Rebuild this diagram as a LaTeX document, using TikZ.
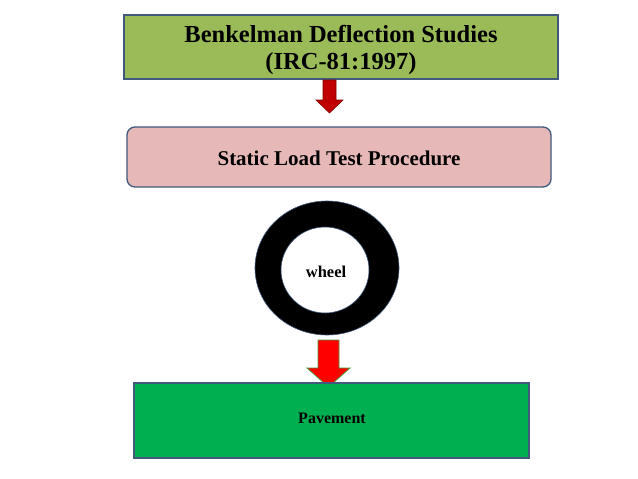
\documentclass[tikz,border=0pt]{standalone}
\usepackage{fontspec}
\setmainfont{Liberation Serif}
\definecolor{topgreen}{HTML}{9BBB59}
\definecolor{pinkbox}{HTML}{E6B9B8}
\definecolor{pavegreen}{HTML}{00B050}
\definecolor{bordblue}{HTML}{41597C}
\definecolor{darkred}{HTML}{C00000}
\definecolor{arrowgreen}{HTML}{4E9A3A}
\begin{document}
\begin{tikzpicture}[x=1pt,y=-1pt,
  box/.style={draw=bordblue,line width=1.3pt,inner sep=0pt},
  txt/.style={font=\bfseries,text=black,align=center}]
\useasboundingbox[fill=white] (0,0) rectangle (638,479);
% top box
\draw[box,fill=topgreen] (124,15) rectangle (558,79);
\node[txt,font=\bfseries\fontsize{24.5}{27}\selectfont] (title) at (341,50) {Benkelman Deflection Studies\\(IRC-81:1997)};
% arrow 1
\draw[fill=darkred,draw=darkred!70!black,line width=0.6pt]
  (323,80) -- (336,80) -- (336,100) -- (343,100) -- (329.5,113) -- (316,100) -- (323,100) -- cycle;
% second box
\draw[box,fill=pinkbox,rounded corners=8pt] (127,127) rectangle (551,187);
\node[txt,font=\bfseries\fontsize{21}{24}\selectfont] (proc) at (339,158) {Static Load Test Procedure};
% wheel ring
\fill[black,even odd rule,draw=bordblue,line width=0.6pt] (327,268) ellipse [x radius=72,y radius=67] (325,270) ellipse [x radius=44,y radius=43];
\node[txt,font=\bfseries\fontsize{16.5}{18}\selectfont] (wheel) at (326,272) {wheel};
% arrow 2
\draw[fill=red,draw=arrowgreen,line width=0.8pt]
  (318,340) -- (339,340) -- (339,368) -- (350,368) -- (328.5,387) -- (307,368) -- (318,368) -- cycle;
% pavement
\draw[box,fill=pavegreen] (134,383) rectangle (529,458);
\node[txt,font=\bfseries\fontsize{16}{18}\selectfont] (pave) at (332,418) {Pavement};
\end{tikzpicture}
\end{document}
